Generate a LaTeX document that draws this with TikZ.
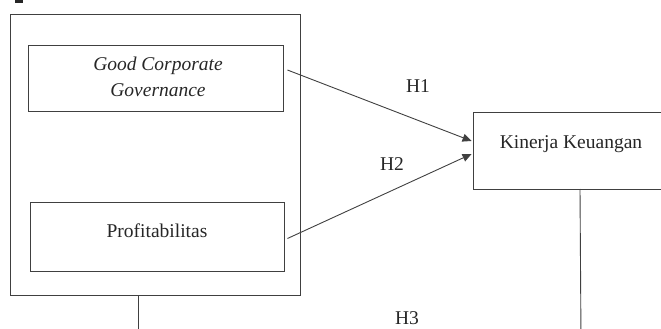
\documentclass[tikz,border=0pt]{standalone}
\usepackage{fontspec}
\setmainfont{Liberation Serif}
\usetikzlibrary{arrows.meta,calc}
\begin{document}
\begin{tikzpicture}[x=1pt,y=-1pt,
  box/.style={draw=black!75,line width=0.9pt,rectangle,inner sep=0pt},
  txt/.style={font=\fontsize{19.5}{26}\selectfont,align=center,inner sep=0pt,text=black!85},
  conn/.style={draw=black!75,line width=0.9pt},
  arr/.style={conn,-{Triangle[length=9pt,width=8pt]}}]
\useasboundingbox (0,0) rectangle (661,329);
\begin{scope}
\clip (0,0) rectangle (661,329);
% cropped glyph fragment at top
\fill[black!85] (14.5,0) rectangle (23,3);
\fill[black!85] (17.5,-2) rectangle (20,1);
% outer box
\node[box,minimum width=290pt,minimum height=281pt] (outer) at (155,154.5) {};
% inner boxes
\node[box,minimum width=255pt,minimum height=66pt] (gcg) at (155.5,78) {};
\node[txt,font=\fontsize{19.5}{26}\selectfont\itshape] (gcgt) at (158,77) {Good Corporate\\Governance};
\node[box,minimum width=254pt,minimum height=69pt] (prof) at (157,236.5) {};
\node[txt] (proft) at (157,231) {Profitabilitas};
% Kinerja box
\node[box,minimum width=192pt,minimum height=77pt] (kin) at (569,150.5) {};
\node[txt] (kint) at (571,144) {Kinerja Keuangan};
% connectors
\coordinate (kin1) at ($(kin.west)+(-1,-9.5)$);
\coordinate (kin2) at ($(kin.west)+(-1,3.5)$);
\draw[arr] ($(gcg.east)+(4,-8)$) -- (kin1);
\draw[arr] ($(prof.east)+(3,2)$) -- (kin2);
\coordinate (bl) at (138,340);
\coordinate (br) at (581,340);
\draw[conn] (outer.south -| bl) -- (bl);
\draw[conn] (580,189) -- (br);
% labels
\node[txt] (h1) at (418,86) {H1};
\node[txt] (h2) at (392,164) {H2};
\node[txt] (h3) at (407,318) {H3};
\end{scope}
\end{tikzpicture}
\end{document}
